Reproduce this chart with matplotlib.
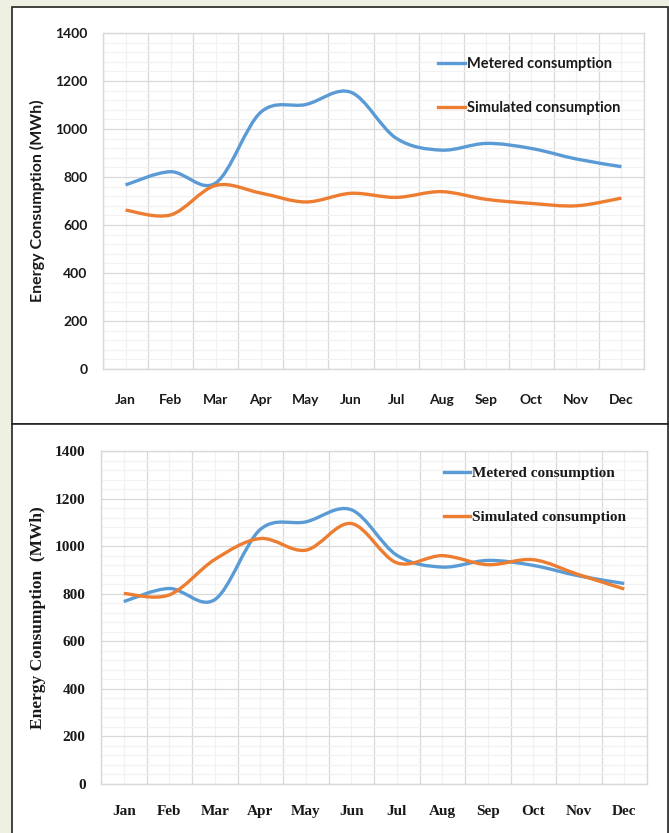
import matplotlib
matplotlib.use("Agg")
import matplotlib.pyplot as plt
from matplotlib.path import Path
from matplotlib.patches import PathPatch, Rectangle
from matplotlib.lines import Line2D
from matplotlib.ticker import MultipleLocator

months = ["Jan", "Feb", "Mar", "Apr", "May", "Jun",
          "Jul", "Aug", "Sep", "Oct", "Nov", "Dec"]

metered = [767, 822, 775, 1070, 1102, 1153, 962, 912, 940, 919, 875, 843]
simulated_top = [662, 642, 765, 733, 696, 732, 715, 739, 707, 690, 680, 712]
simulated_bottom = [801, 795, 944, 1032, 983, 1095, 930, 960, 922, 943, 880, 820]

BLUE = "#5b9bd5"
ORANGE = "#ed7d31"
W, H = 669, 833


def smooth_path(xs, ys):
    # Excel-style smoothed line: cubic bezier through every point
    pts = list(zip(xs, ys))
    n = len(pts)
    verts = [pts[0]]
    codes = [Path.MOVETO]
    for i in range(n - 1):
        p0 = pts[i - 1] if i > 0 else pts[i]
        p1 = pts[i]
        p2 = pts[i + 1]
        p3 = pts[i + 2] if i + 2 < n else pts[i + 1]
        c1 = (p1[0] + (p2[0] - p0[0]) / 6, p1[1] + (p2[1] - p0[1]) / 6)
        c2 = (p2[0] - (p3[0] - p1[0]) / 6, p2[1] - (p3[1] - p1[1]) / 6)
        verts += [c1, c2, p2]
        codes += [Path.CURVE4] * 3
    return Path(verts, codes)


def draw_panel(ax, sim, family, tick_size, xpad, label_text, label_size, leg_size,
               label_x, leg_anchor, leg_spacing, handle_len):
    x = list(range(len(months)))
    for ys, c in [(metered, BLUE), (sim, ORANGE)]:
        ax.add_patch(PathPatch(smooth_path(x, ys), fill=False, edgecolor=c,
                               lw=2.4, capstyle="butt", zorder=3))
    ax.set_xlim(-0.5, 11.5)
    ax.set_ylim(0, 1400)
    ax.set_xticks(x)
    ax.set_xticklabels(months)
    ax.xaxis.set_minor_locator(MultipleLocator(1, offset=0.5))
    ax.yaxis.set_major_locator(MultipleLocator(200))
    ax.yaxis.set_minor_locator(MultipleLocator(40))
    ax.tick_params(which="both", length=0)
    ax.tick_params(axis="y", pad=11)
    ax.tick_params(axis="x", pad=xpad)
    ax.grid(which="major", axis="y", color="#d9d9d9", lw=0.9)
    ax.grid(which="minor", axis="y", color="#f2f2f2", lw=0.9)
    ax.grid(which="minor", axis="x", color="#d9d9d9", lw=0.9)
    ax.grid(which="major", axis="x", color="#f2f2f2", lw=0.9)
    ax.set_axisbelow(True)
    for s in ax.spines.values():
        s.set_color("#d9d9d9")
        s.set_linewidth(1.0)
    for lab in ax.get_xticklabels() + ax.get_yticklabels():
        lab.set_family(family)
        lab.set_fontweight("bold")
        lab.set_fontsize(tick_size)
        lab.set_color("#1a1a1a")
    ax.set_ylabel(label_text, fontfamily=family, fontweight="bold",
                  fontsize=label_size, color="#1a1a1a")
    ax.yaxis.set_label_coords(label_x, 0.5)
    handles = [Line2D([], [], color=BLUE, lw=2.4),
               Line2D([], [], color=ORANGE, lw=2.4)]
    leg = ax.legend(handles, ["Metered consumption", "Simulated consumption"],
                    loc="center left", bbox_to_anchor=leg_anchor,
                    bbox_transform=fig.transFigure, frameon=False,
                    handlelength=handle_len, handletextpad=0.1, borderpad=0,
                    labelspacing=leg_spacing,
                    prop={"family": family, "weight": "bold", "size": leg_size})
    for t in leg.get_texts():
        t.set_color("#1a1a1a")


fig = plt.figure(figsize=(W / 100, H / 100), dpi=100)
fig.patch.set_facecolor("#eef0e4")

# white panel boxes
fig.add_artist(Rectangle((11.5 / W, 1 - 424 / H), (668 - 11.5) / W, (424 - 7) / H,
                         transform=fig.transFigure, facecolor="white",
                         edgecolor="#222222", lw=1.2, zorder=0))
fig.add_artist(Rectangle((11.5 / W, -0.02), (668 - 11.5) / W, 1 - 424 / H + 0.02,
                         transform=fig.transFigure, facecolor="white",
                         edgecolor="#222222", lw=1.2, zorder=0))

ax1 = fig.add_axes([103 / W, 1 - 369 / H, 541 / W, 336 / H])
ax2 = fig.add_axes([101 / W, 1 - 784 / H, 546 / W, 333 / H])

draw_panel(ax1, simulated_top, "Lato", 10, 18, "Energy Consumption (MWh)", 11.5, 10.5,
           -0.107, (431 / W, 1 - 86 / H), 2.05, 1.85)
draw_panel(ax2, simulated_bottom, "Liberation Serif", 11, 15, "Energy Consumption  (MWh)",
           12.5, 11, -0.1007, (436 / W, 1 - 495.5 / H), 2.0, 1.75)

fig.savefig("out.png", dpi=100, facecolor=fig.get_facecolor())
